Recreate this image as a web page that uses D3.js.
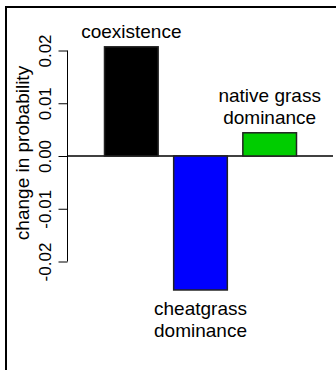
<!DOCTYPE html>
<meta charset="utf-8">
<style>
    body { margin: 0; background: #fff; }
    svg text { font-family: "Liberation Sans", Arial, sans-serif; fill: #000; }
    .axis path, .axis line { stroke: #000; stroke-width: 1; }
</style>
<svg class="chart"></svg>
<script src="https://cdn.jsdelivr.net/npm/d3@7/dist/d3.min.js"></script>
<script>
    var categories = ["coexistence", "cheatgrass dominance", "native grass dominance"];
    var labelLines = [["coexistence"], ["cheatgrass", "dominance"], ["native grass", "dominance"]];
    var values = [0.0207, -0.0254, 0.0044];
    var colors = ["#000000", "#0000ff", "#00cd00"];
    var tickValues = [-0.02, -0.01, 0, 0.01, 0.02];

    var width = 336,
        height = 370;

    var svg = d3.select(".chart")
        .attr("width", width)
        .attr("height", height);

    // frame (only top and left edges show in the crop)
    svg.append("path")
        .attr("d", "M6," + height + "V7H" + width)
        .attr("fill", "none")
        .attr("stroke", "#000")
        .attr("stroke-width", 2);

    var y = d3.scaleLinear()
        .domain([-0.02, 0.02])
        .range([261.5, 50.5]);

    var x = d3.scaleBand()
        .domain(categories)
        .range([104, 297])
        .paddingInner(0.21)
        .paddingOuter(0);

    var axisX = 67.5;

    var yAxis = svg.append("g")
        .attr("class", "axis")
        .attr("transform", "translate(" + axisX + ",0)")
        .call(d3.axisLeft(y)
            .tickValues(tickValues)
            .tickSizeInner(9)
            .tickSizeOuter(0)
            .tickFormat(function (d) { return d.toFixed(2); }));

    yAxis.select(".domain").attr("d", "M0," + y(0.02) + "V" + y(-0.02));
    yAxis.selectAll(".tick text")
        .attr("transform", "rotate(-90)")
        .attr("x", 0)
        .attr("y", -16.5)
        .attr("dy", null)
        .attr("text-anchor", "middle")
        .style("font-size", "17px")
        .style("font-family", "'Liberation Sans', Arial, sans-serif");

    svg.append("text")
        .attr("transform", "rotate(-90)")
        .attr("x", -153)
        .attr("y", 29)
        .attr("text-anchor", "middle")
        .style("font-size", "19px")
        .text("change in probability");

    // zero line across the plot region
    svg.append("line")
        .attr("x1", axisX)
        .attr("x2", 333)
        .attr("y1", y(0))
        .attr("y2", y(0))
        .attr("stroke", "#000")
        .attr("stroke-width", 1.5);

    var bar = svg.selectAll(".bar")
        .data(values)
        .enter().append("g")
        .attr("class", "bar");

    bar.append("rect")
        .attr("x", function (d, i) { return x(categories[i]) + 0.5; })
        .attr("y", function (d) { return y(Math.max(0, d)); })
        .attr("width", x.bandwidth() - 1)
        .attr("height", function (d) { return Math.abs(y(d) - y(0)); })
        .attr("fill", function (d, i) { return colors[i]; })
        .attr("stroke", "#222")
        .attr("stroke-width", 1.5);

    bar.each(function (d, i) {
        var lines = labelLines[i];
        var cx = x(categories[i]) + x.bandwidth() / 2;
        var lineH = 22;
        var g = d3.select(this);
        lines.forEach(function (t, j) {
            var yy;
            if (d >= 0) {
                yy = y(d) - 9 - (lines.length - 1 - j) * lineH;
            } else {
                yy = y(d) + 25 + j * lineH;
            }
            g.append("text")
                .attr("x", cx)
                .attr("y", yy)
                .attr("text-anchor", "middle")
                .style("font-size", "19px")
                .text(t);
        });
    });
</script>
